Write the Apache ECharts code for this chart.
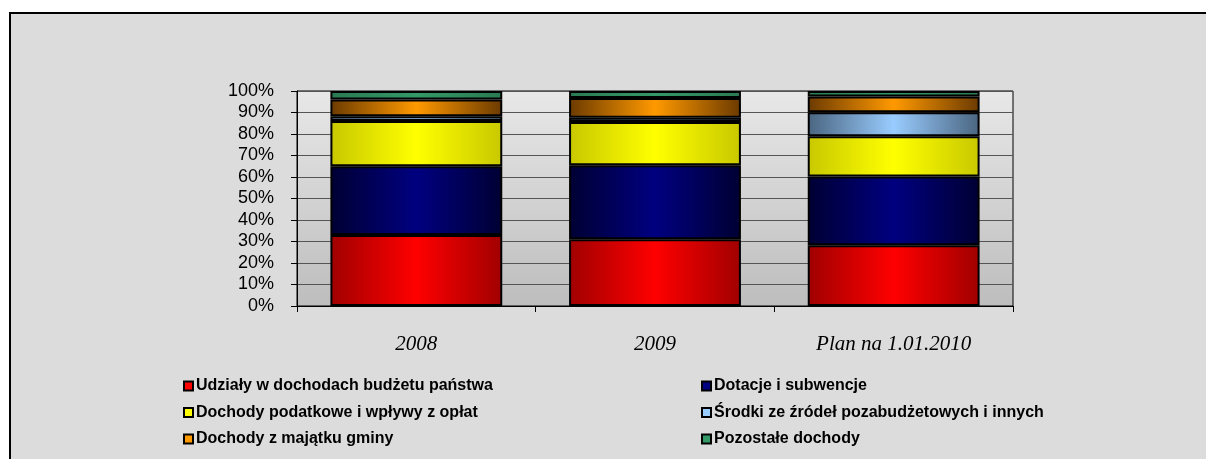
<!DOCTYPE html>
<html>
<head>
<meta charset="utf-8">
<script src="https://cdn.jsdelivr.net/npm/echarts@6/dist/echarts.min.js"></script>
<style>
  html, body { margin: 0; padding: 0; background: #ffffff; }
  #chart { width: 1206px; height: 459px; }
</style>
</head>
<body>
<div id="chart"></div>
<script>
const categories = ['2008', '2009', 'Plan na 1.01.2010']
const udzialy = [33.0, 31.1, 28.3]
const dotacje = [32.0, 34.4, 31.9]
const podatkowe = [21.0, 20.1, 18.8]
const srodki = [2.2, 2.0, 11.1]
const majatek = [7.9, 9.2, 7.3]
const pozostale = [3.9, 3.2, 2.6]
const yTicks = [0, 10, 20, 30, 40, 50, 60, 70, 80, 90, 100]

const chart = echarts.init(document.getElementById('chart'))

// poziomy gradient: ciemne brzegi, jasny środek
const shade = (edge, mid) => new echarts.graphic.LinearGradient(0, 0, 1, 0, [
  { offset: 0, color: edge },
  { offset: 0.5, color: mid },
  { offset: 1, color: edge }
])

const seriesDefs = [
  { name: 'Udziały w dochodach budżetu państwa', data: udzialy, edge: '#a00000', mid: '#ff0000', flat: '#ff0000' },
  { name: 'Dotacje i subwencje', data: dotacje, edge: '#000033', mid: '#000080', flat: '#000080' },
  { name: 'Dochody podatkowe i wpływy z opłat', data: podatkowe, edge: '#c8c800', mid: '#ffff00', flat: '#ffff00' },
  { name: 'Środki ze źródeł pozabudżetowych i innych', data: srodki, edge: '#4a6580', mid: '#99ccff', flat: '#99ccff' },
  { name: 'Dochody z majątku gminy', data: majatek, edge: '#6b3a00', mid: '#ff9900', flat: '#ff9900' },
  { name: 'Pozostałe dochody', data: pozostale, edge: '#2a7a52', mid: '#339966', flat: '#339966' }
]

const legendText = { fontFamily: 'Liberation Sans, Arial', fontWeight: 'bold', fontSize: 16, color: '#000', padding: [0, 0, 0, -2] }
const legendItem = (i) => ({
  name: seriesDefs[i].name,
  itemStyle: { color: seriesDefs[i].flat, borderColor: '#000', borderWidth: 2 }
})
const legendBase = {
  orient: 'vertical',
  top: 378,
  padding: 0,
  itemWidth: 9,
  itemHeight: 9,
  itemGap: 10.5,
  icon: 'rect',
  selectedMode: false,
  textStyle: legendText
}

const option = {
  backgroundColor: '#ffffff',
  animation: false,
  graphic: [
    {
      type: 'rect',
      z: -10,
      shape: { x: 10, y: 13, width: 1220, height: 470 },
      style: { fill: '#dcdcdc', stroke: '#000', lineWidth: 2 }
    }
  ],
  grid: {
    left: 297,
    right: 193,
    top: 91,
    bottom: 153,
    show: true,
    borderColor: '#000',
    borderWidth: 1,
    backgroundColor: new echarts.graphic.LinearGradient(0, 0, 0, 1, [
      { offset: 0, color: '#e8e8e8' },
      { offset: 1, color: '#bdbdbd' }
    ])
  },
  legend: [
    Object.assign({}, legendBase, { left: 183, data: [legendItem(0), legendItem(2), legendItem(4)] }),
    Object.assign({}, legendBase, { left: 701, data: [legendItem(1), legendItem(3), legendItem(5)] })
  ],
  xAxis: {
    type: 'category',
    data: categories,
    axisLine: { lineStyle: { color: '#000', width: 1 } },
    axisTick: { show: true, length: 6, lineStyle: { color: '#000' } },
    axisLabel: {
      margin: 28,
      fontFamily: 'Liberation Serif, Times New Roman',
      fontStyle: 'italic',
      fontSize: 21,
      color: '#000'
    }
  },
  yAxis: {
    type: 'value',
    min: yTicks[0],
    max: yTicks[yTicks.length - 1],
    interval: 10,
    axisLine: { show: true, lineStyle: { color: '#000' } },
    axisTick: { show: true, length: 6, lineStyle: { color: '#000' } },
    splitLine: { lineStyle: { color: '#555', width: 1 } },
    axisLabel: {
      margin: 23,
      fontFamily: 'Liberation Sans, Arial',
      fontSize: 18,
      color: '#000',
      formatter: '{value}%'
    }
  },
  series: seriesDefs.map(s => ({
    name: s.name,
    type: 'bar',
    stack: 'total',
    data: s.data,
    barCategoryGap: '28%',
    itemStyle: {
      color: shade(s.edge, s.mid),
      borderColor: '#000',
      borderWidth: 2
    }
  }))
}

chart.setOption(option)
</script>
</body>
</html>
